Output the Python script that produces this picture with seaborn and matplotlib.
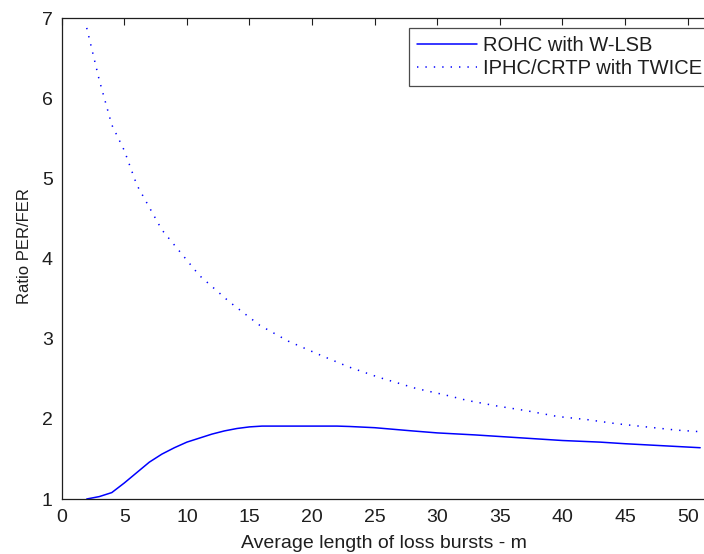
import matplotlib
matplotlib.use("Agg")
import matplotlib.pyplot as plt
import seaborn as sns
import pandas as pd

# Average burst length m and the PER/FER ratio of each scheme
m_rohc = [2, 3, 4, 5, 6, 7, 8, 9, 10, 11, 12, 13, 14, 15, 16, 18, 20, 22, 23,
          25, 28, 30, 33, 35, 38, 40, 43, 45, 48, 51]
ratio_rohc = [1.00, 1.03, 1.08, 1.20, 1.33, 1.46, 1.56, 1.64, 1.71, 1.76, 1.81,
              1.85, 1.88, 1.90, 1.91, 1.91, 1.91, 1.91, 1.905,
              1.89, 1.85, 1.825, 1.80, 1.78, 1.75, 1.73, 1.71, 1.69, 1.665, 1.64]

m_iphc = [2, 3, 4, 5, 6, 7, 8, 9, 10, 11, 13.4, 15.8, 18.1, 20.6, 22.9, 25.3,
          28.3, 30.6, 32.4, 34.8, 37.2, 39.6, 42, 44.3, 46.7, 49.1, 51]
ratio_iphc = [6.88, 6.23, 5.67, 5.35, 4.92, 4.64, 4.36, 4.17, 3.98, 3.79, 3.46,
              3.17, 2.97, 2.80, 2.65, 2.52, 2.38, 2.30, 2.23, 2.16, 2.10, 2.03,
              1.99, 1.94, 1.90, 1.86, 1.84]

series_names = ["ROHC with W-LSB", "IPHC/CRTP with TWICE"]
x_ticks = [0, 5, 10, 15, 20, 25, 30, 35, 40, 45, 50]
y_ticks = [1, 2, 3, 4, 5, 6, 7]

df_rohc = pd.DataFrame({"m": m_rohc, "ratio": ratio_rohc})
df_iphc = pd.DataFrame({"m": m_iphc, "ratio": ratio_iphc})

sns.set_theme(style="white")
plt.rcParams["font.family"] = ["Liberation Sans", "DejaVu Sans"]

INK = "#1e1e1e"
fig = plt.figure(figsize=(7.04, 5.54), dpi=100)
ax = fig.add_axes([61.7 / 704, 55 / 554, (712.7 - 61.7) / 704, (499 - 18.3) / 554])

sns.lineplot(data=df_rohc, x="m", y="ratio", ax=ax, color="#0000ff",
             linewidth=1.1, label=series_names[0])
sns.lineplot(data=df_iphc, x="m", y="ratio", ax=ax, color="#0000ff",
             linewidth=1.1, linestyle=(0, (0.9, 4.6)), label=series_names[1])

ax.set_xlim(0, 52)
ax.set_ylim(1, 7)
ax.set_xticks(x_ticks)
ax.set_yticks(y_ticks)
ax.tick_params(direction="in", length=5, width=0.8, color=INK,
               labelsize=14, top=True, right=True, labelcolor=INK)
ax.tick_params(axis="x", pad=7)
ax.tick_params(axis="y", pad=6.5)
for s in ax.spines.values():
    s.set_color(INK)
    s.set_linewidth(0.9)

ax.set_xlabel("Average length of loss bursts - m", fontsize=14, color=INK,
              va="top")
ax.xaxis.set_label_coords(0.495, -0.074)
ax.set_ylabel("Ratio PER/FER", fontsize=12, color=INK)
ax.yaxis.set_label_coords(-0.046, 0.527)

leg = ax.legend(loc="upper left", bbox_to_anchor=(0.5328, 0.979),
                frameon=True, fancybox=False, fontsize=14.5,
                borderaxespad=0, borderpad=0.4, handlelength=3.0,
                handletextpad=0.3, labelspacing=0.18)
leg.get_frame().set_edgecolor(INK)
leg.get_frame().set_linewidth(0.9)
for t in leg.get_texts():
    t.set_color(INK)

fig.savefig("out.png", dpi=100)
